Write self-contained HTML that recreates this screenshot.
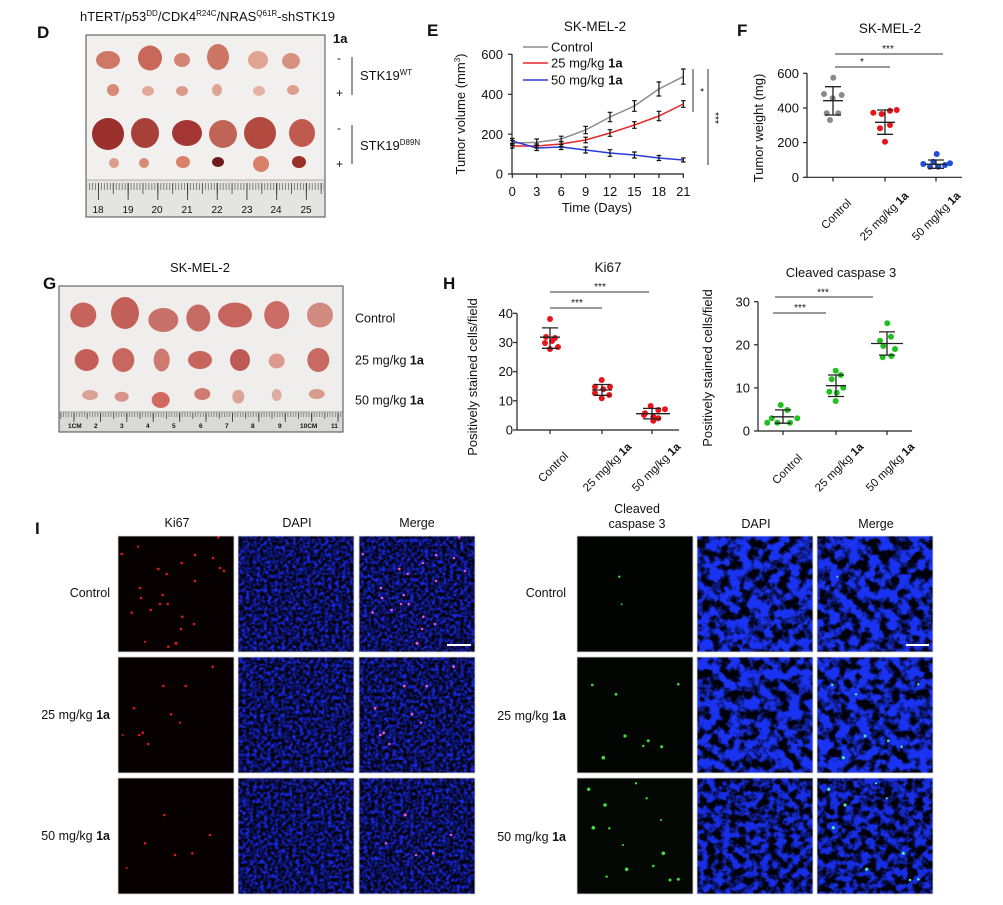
<!DOCTYPE html>
<html><head><meta charset="utf-8"><style>
html,body{margin:0;padding:0;background:#fff;}
svg{display:block;}
svg text{font-family:"Liberation Sans",Arial,sans-serif;fill:#111;}
</style></head><body>
<svg width="1003" height="905" viewBox="0 0 1003 905" xmlns="http://www.w3.org/2000/svg">
<defs>
<pattern id="mmD" patternUnits="userSpaceOnUse" x="98" y="0" width="2.97" height="905"><line x1="0.4" y1="0" x2="0.4" y2="905" stroke="#555" stroke-width="0.7"/></pattern>
<pattern id="hD" patternUnits="userSpaceOnUse" x="98" y="0" width="14.85" height="905"><line x1="0.4" y1="0" x2="0.4" y2="905" stroke="#444" stroke-width="0.8"/></pattern>
<pattern id="cD" patternUnits="userSpaceOnUse" x="98" y="0" width="29.7" height="905"><line x1="0.4" y1="0" x2="0.4" y2="905" stroke="#333" stroke-width="0.9"/></pattern>
<pattern id="mmG" patternUnits="userSpaceOnUse" x="100" y="0" width="2.64" height="905"><line x1="0.4" y1="0" x2="0.4" y2="905" stroke="#555" stroke-width="0.6"/></pattern>
<pattern id="hG" patternUnits="userSpaceOnUse" x="100" y="0" width="13.2" height="905"><line x1="0.4" y1="0" x2="0.4" y2="905" stroke="#444" stroke-width="0.7"/></pattern>
<pattern id="cG" patternUnits="userSpaceOnUse" x="100" y="0" width="26.4" height="905"><line x1="0.4" y1="0" x2="0.4" y2="905" stroke="#333" stroke-width="0.8"/></pattern>
<filter id="fL" x="0" y="0" width="1" height="1" color-interpolation-filters="sRGB">
 <feTurbulence type="fractalNoise" baseFrequency="0.28" numOctaves="2" seed="4"/>
 <feColorMatrix type="matrix" values="0 0 0 0 0.1  0 0 0 0 0.16  0 0 0 0 0.92  2.5 0 0 0 -0.9"/>
</filter>
<filter id="fR" x="0" y="0" width="1" height="1" color-interpolation-filters="sRGB">
 <feTurbulence type="fractalNoise" baseFrequency="0.1" numOctaves="3" seed="7"/>
 <feColorMatrix type="matrix" values="0 0 0 0 0.1  0 0 0 0 0.2  0 0 0 0 0.95  4.5 0 0 0 -1.65"/>
</filter>
<filter id="fR2" x="0" y="0" width="1" height="1" color-interpolation-filters="sRGB">
 <feTurbulence type="fractalNoise" baseFrequency="0.13" numOctaves="3" seed="11"/>
 <feColorMatrix type="matrix" values="0 0 0 0 0.09  0 0 0 0 0.18  0 0 0 0 0.9  4.2 0 0 0 -1.6"/>
</filter>
</defs>

<!-- ================= PANEL D ================= -->
<text x="37" y="38" font-size="17" font-weight="bold">D</text>
<text x="80" y="21" font-size="13">hTERT/p53<tspan dy="-5" font-size="8">DD</tspan><tspan dy="5">/CDK4</tspan><tspan dy="-5" font-size="8">R24C</tspan><tspan dy="5">/NRAS</tspan><tspan dy="-5" font-size="8">Q61R</tspan><tspan dy="5">-shSTK19</tspan></text>
<rect x="86" y="35" width="239" height="182" fill="#f2f0ee" stroke="#4a4a4a" stroke-width="1"/>
<rect x="86.5" y="180" width="238" height="36.5" fill="#e4e4e2"/>
<line x1="86" y1="180" x2="325" y2="180" stroke="#9a9a9a" stroke-width="0.8"/>
<rect x="87" y="183" width="237" height="7" fill="url(#mmD)"/>
<rect x="87" y="183" width="237" height="11" fill="url(#hD)"/>
<rect x="87" y="183" width="237" height="17" fill="url(#cD)"/>
<g font-size="10" text-anchor="middle">
<text x="98" y="213">18</text><text x="128" y="213">19</text><text x="157" y="213">20</text><text x="187" y="213">21</text><text x="217" y="213">22</text><text x="247" y="213">23</text><text x="276" y="213">24</text><text x="306" y="213">25</text>
</g>
<g>
<ellipse cx="108" cy="60" rx="12" ry="9" fill="#cf7868"/>
<ellipse cx="150" cy="58" rx="12" ry="12.5" fill="#c8675a"/>
<ellipse cx="182" cy="60" rx="8" ry="7" fill="#d48474"/>
<ellipse cx="218" cy="57" rx="11" ry="13" fill="#cd7565"/>
<ellipse cx="258" cy="60" rx="10" ry="9" fill="#dfa494"/>
<ellipse cx="291" cy="61" rx="9" ry="8" fill="#d8907e"/>
<ellipse cx="113" cy="90" rx="6" ry="6" fill="#d88a78"/>
<ellipse cx="148" cy="91" rx="6" ry="5" fill="#e3a898"/>
<ellipse cx="182" cy="91" rx="6" ry="5" fill="#dc9886"/>
<ellipse cx="217" cy="90" rx="5" ry="6" fill="#e0a292"/>
<ellipse cx="259" cy="91" rx="6" ry="5" fill="#e6b0a2"/>
<ellipse cx="293" cy="90" rx="6" ry="5" fill="#dd9c8c"/>
<ellipse cx="108" cy="134" rx="16" ry="16" fill="#9a2f2c"/>
<ellipse cx="145" cy="133" rx="14" ry="15" fill="#a8403a"/>
<ellipse cx="187" cy="133" rx="15" ry="13" fill="#a33632"/>
<ellipse cx="223" cy="134" rx="14" ry="14" fill="#c06458"/>
<ellipse cx="260" cy="133" rx="16" ry="16" fill="#b24a40"/>
<ellipse cx="302" cy="133" rx="13" ry="14" fill="#c05a4e"/>
<ellipse cx="114" cy="163" rx="5" ry="5" fill="#dd9c88"/>
<ellipse cx="144" cy="163" rx="5" ry="5" fill="#d88a76"/>
<ellipse cx="183" cy="162" rx="7" ry="6" fill="#d88068"/>
<ellipse cx="218" cy="162" rx="6" ry="5" fill="#6e1c1a"/>
<ellipse cx="261" cy="164" rx="8" ry="8" fill="#d8806a"/>
<ellipse cx="299" cy="162" rx="7" ry="6" fill="#9a3028"/>
</g>
<text x="333" y="43" font-size="13" font-weight="bold">1a</text>
<text x="337" y="62" font-size="12">-</text>
<text x="336" y="97" font-size="12">+</text>
<line x1="352" y1="57" x2="352" y2="95" stroke="#333" stroke-width="1"/>
<text x="360" y="80" font-size="13">STK19<tspan dy="-5" font-size="8">WT</tspan></text>
<text x="337" y="132" font-size="12">-</text>
<text x="336" y="168" font-size="12">+</text>
<line x1="352" y1="125" x2="352" y2="164" stroke="#333" stroke-width="1"/>
<text x="360" y="150" font-size="13">STK19<tspan dy="-5" font-size="8">D89N</tspan></text>

<!-- ================= PANEL E ================= -->
<text x="427" y="36" font-size="17" font-weight="bold">E</text>
<text x="595" y="31" font-size="13.5" text-anchor="middle">SK-MEL-2</text>
<g stroke="#222" stroke-width="1.2" fill="none">
<line x1="512" y1="54" x2="512" y2="174.5"/>
<line x1="512" y1="174" x2="684" y2="174"/>
<line x1="508" y1="54.3" x2="512" y2="54.3"/><line x1="508" y1="94.3" x2="512" y2="94.3"/><line x1="508" y1="134.2" x2="512" y2="134.2"/><line x1="508" y1="174" x2="512" y2="174"/>
<line x1="512.3" y1="174" x2="512.3" y2="178"/><line x1="536.7" y1="174" x2="536.7" y2="178"/><line x1="561.2" y1="174" x2="561.2" y2="178"/><line x1="585.6" y1="174" x2="585.6" y2="178"/><line x1="610" y1="174" x2="610" y2="178"/><line x1="634.4" y1="174" x2="634.4" y2="178"/><line x1="658.9" y1="174" x2="658.9" y2="178"/><line x1="683.3" y1="174" x2="683.3" y2="178"/>
</g>
<g font-size="13" text-anchor="end">
<text x="503" y="59">600</text><text x="503" y="99">400</text><text x="503" y="139">200</text><text x="503" y="178.5">0</text>
</g>
<g font-size="13" text-anchor="middle">
<text x="512.3" y="196">0</text><text x="536.7" y="196">3</text><text x="561.2" y="196">6</text><text x="585.6" y="196">9</text><text x="610" y="196">12</text><text x="634.4" y="196">15</text><text x="658.9" y="196">18</text><text x="683.3" y="196">21</text>
<text x="597" y="212">Time (Days)</text>
</g>
<text transform="translate(465,114) rotate(-90)" font-size="13" text-anchor="middle">Tumor volume (mm<tspan dy="-5" font-size="8">3</tspan><tspan dy="5">)</tspan></text>
<line x1="523" y1="47" x2="548" y2="47" stroke="#8c8c8c" stroke-width="1.5"/>
<line x1="523" y1="63" x2="548" y2="63" stroke="#e8262a" stroke-width="1.5"/>
<line x1="523" y1="80" x2="548" y2="80" stroke="#2a3bdc" stroke-width="1.5"/>
<text x="551" y="51.5" font-size="13">Control</text>
<text x="551" y="67.5" font-size="13">25 mg/kg <tspan font-weight="bold">1a</tspan></text>
<text x="551" y="84.5" font-size="13">50 mg/kg <tspan font-weight="bold">1a</tspan></text>
<polyline fill="none" stroke="#8c8c8c" stroke-width="1.5" points="512.3,143 536.7,142.4 561.2,139 585.6,130 610,117 634.4,106 658.9,89 683.3,76.6"/>
<polyline fill="none" stroke="#e8262a" stroke-width="1.5" points="512.3,146 536.7,146 561.2,144 585.6,140 610,133 634.4,125 658.9,116 683.3,104"/>
<polyline fill="none" stroke="#2a3bdc" stroke-width="1.5" points="512.3,141 536.7,148 561.2,147 585.6,150 610,153 634.4,155 658.9,158 683.3,160"/>
<g stroke="#111" stroke-width="1.2" fill="none">
<path d="M512.3,140.5V145.5M510,140.5h4.6M510,145.5h4.6"/>
<path d="M536.7,139V145.8M534.4,139h4.6M534.4,145.8h4.6"/>
<path d="M561.2,136.2V141.8M558.9,136.2h4.6M558.9,141.8h4.6"/>
<path d="M585.6,126.3V133.7M583.3,126.3h4.6M583.3,133.7h4.6"/>
<path d="M610,112.3V121.7M607.7,112.3h4.6M607.7,121.7h4.6"/>
<path d="M634.4,100.7V111.3M632.1,100.7h4.6M632.1,111.3h4.6"/>
<path d="M658.9,82V96M656.6,82h4.6M656.6,96h4.6"/>
<path d="M683.3,69V84.2M681,69h4.6M681,84.2h4.6"/>
<path d="M512.3,144V148M510,144h4.6M510,148h4.6"/>
<path d="M536.7,144V148M534.4,144h4.6M534.4,148h4.6"/>
<path d="M561.2,141.5V146.5M558.9,141.5h4.6M558.9,146.5h4.6"/>
<path d="M585.6,137.2V142.8M583.3,137.2h4.6M583.3,142.8h4.6"/>
<path d="M610,129.7V136.3M607.7,129.7h4.6M607.7,136.3h4.6"/>
<path d="M634.4,121.7V128.3M632.1,121.7h4.6M632.1,128.3h4.6"/>
<path d="M658.9,111.3V120.7M656.6,111.3h4.6M656.6,120.7h4.6"/>
<path d="M683.3,100.7V107.3M681,100.7h4.6M681,107.3h4.6"/>
<path d="M512.3,138.5V143.5M510,138.5h4.6M510,143.5h4.6"/>
<path d="M536.7,145.5V150.5M534.4,145.5h4.6M534.4,150.5h4.6"/>
<path d="M561.2,144.5V149.5M558.9,144.5h4.6M558.9,149.5h4.6"/>
<path d="M585.6,147V153M583.3,147h4.6M583.3,153h4.6"/>
<path d="M610,149.7V156.3M607.7,149.7h4.6M607.7,156.3h4.6"/>
<path d="M634.4,152V158M632.1,152h4.6M632.1,158h4.6"/>
<path d="M658.9,155.5V160.5M656.6,155.5h4.6M656.6,160.5h4.6"/>
<path d="M683.3,158V162M681,158h4.6M681,162h4.6"/>
</g>
<line x1="693" y1="69" x2="693" y2="112" stroke="#333" stroke-width="1"/>
<line x1="708" y1="69" x2="708" y2="165" stroke="#333" stroke-width="1"/>
<text transform="translate(697,90) rotate(90)" font-size="10" text-anchor="middle">*</text>
<text transform="translate(712,118) rotate(90)" font-size="10" text-anchor="middle">***</text>

<!-- ================= PANEL F ================= -->
<text x="737" y="36" font-size="17" font-weight="bold">F</text>
<text x="890" y="33" font-size="13.5" text-anchor="middle">SK-MEL-2</text>
<line x1="835" y1="54" x2="943" y2="54" stroke="#333" stroke-width="1"/>
<text x="888" y="52" font-size="10" text-anchor="middle">***</text>
<line x1="835" y1="67" x2="890" y2="67" stroke="#333" stroke-width="1"/>
<text x="862" y="65" font-size="10" text-anchor="middle">*</text>
<g stroke="#222" stroke-width="1.2" fill="none">
<line x1="807" y1="73.3" x2="807" y2="177.8"/>
<line x1="807" y1="177.3" x2="962" y2="177.3"/>
<line x1="803" y1="73.3" x2="807" y2="73.3"/><line x1="803" y1="108" x2="807" y2="108"/><line x1="803" y1="142.6" x2="807" y2="142.6"/><line x1="803" y1="177.3" x2="807" y2="177.3"/>
<line x1="833" y1="177.3" x2="833" y2="181.5"/><line x1="885" y1="177.3" x2="885" y2="181.5"/><line x1="936" y1="177.3" x2="936" y2="181.5"/>
</g>
<g font-size="13" text-anchor="end">
<text x="799" y="78">600</text><text x="799" y="112.5">400</text><text x="799" y="147">200</text><text x="799" y="182">0</text>
</g>
<text transform="translate(763,128) rotate(-90)" font-size="13" text-anchor="middle">Tumor weight (mg)</text>
<g fill="#8a8a8a">
<circle cx="833.3" cy="77.7" r="3"/><circle cx="824" cy="94" r="3"/><circle cx="841.7" cy="95" r="3"/><circle cx="832.7" cy="98.3" r="3"/><circle cx="826.7" cy="113.3" r="3"/><circle cx="838.3" cy="113.3" r="3"/><circle cx="830" cy="120" r="3"/>
</g>
<g fill="#e8141a">
<circle cx="873.3" cy="112.7" r="3"/><circle cx="881.7" cy="114" r="3"/><circle cx="890" cy="110.7" r="3"/><circle cx="896.7" cy="110" r="3"/><circle cx="880" cy="128.3" r="3"/><circle cx="890" cy="125" r="3"/><circle cx="885" cy="141.7" r="3"/>
</g>
<g fill="#1f4fd8">
<circle cx="936.7" cy="154" r="3"/><circle cx="923.3" cy="164" r="3"/><circle cx="930" cy="166.7" r="3"/><circle cx="938.3" cy="166.7" r="3"/><circle cx="945" cy="165" r="3"/><circle cx="950" cy="163.3" r="3"/><circle cx="933.3" cy="161.7" r="3"/>
</g>
<g stroke="#222" stroke-width="1.3" fill="none">
<path d="M833,86.7V115M825,86.7h16M825,115h16M823,100.7h20"/>
<path d="M885,110V134.3M877,110h16M877,134.3h16M875,122.3h20"/>
<path d="M936,160V168.3M928,160h16M928,168.3h16M925,164.3h22"/>
</g>
<g font-size="11.5" text-anchor="middle">
<text transform="translate(836,214) rotate(-45)" dy="4">Control</text>
<text transform="translate(884,216) rotate(-45)" dy="4">25 mg/kg <tspan font-weight="bold">1a</tspan></text>
<text transform="translate(936,216) rotate(-45)" dy="4">50 mg/kg <tspan font-weight="bold">1a</tspan></text>
</g>

<!-- ================= PANEL G ================= -->
<text x="43" y="289" font-size="17" font-weight="bold">G</text>
<text x="200" y="272" font-size="13" text-anchor="middle">SK-MEL-2</text>
<rect x="59" y="286" width="284" height="146" fill="#f0eeec" stroke="#4a4a4a" stroke-width="1"/>
<rect x="59.5" y="412" width="283" height="19.5" fill="#d9d9d7"/>
<line x1="59" y1="412" x2="343" y2="412" stroke="#777" stroke-width="0.8"/>
<rect x="60" y="413" width="282" height="4" fill="url(#mmG)"/>
<rect x="60" y="413" width="282" height="6" fill="url(#hG)"/>
<rect x="60" y="413" width="282" height="9" fill="url(#cG)"/>
<g font-size="6.5" font-weight="bold">
<text x="68" y="428">1CM</text><text x="94" y="428">2</text><text x="120" y="428">3</text><text x="146" y="428">4</text><text x="172" y="428">5</text><text x="199" y="428">6</text><text x="225" y="428">7</text><text x="251" y="428">8</text><text x="278" y="428">9</text><text x="300" y="428">10CM</text><text x="331" y="428">11</text>
</g>
<g>
<ellipse cx="83.3" cy="315" rx="13" ry="12.5" fill="#c8625c"/>
<ellipse cx="125" cy="313" rx="14" ry="16" fill="#c4605a"/>
<ellipse cx="163.3" cy="320" rx="15" ry="12" fill="#c9706a"/>
<ellipse cx="198.3" cy="318" rx="12" ry="13.5" fill="#c66a64"/>
<ellipse cx="235" cy="315" rx="17" ry="12.5" fill="#c6645e"/>
<ellipse cx="276.7" cy="315" rx="12.5" ry="14" fill="#cb6c66"/>
<ellipse cx="320" cy="315" rx="13" ry="12.5" fill="#d08a80"/>
<ellipse cx="86.7" cy="360" rx="12" ry="11" fill="#c45e58"/>
<ellipse cx="123.3" cy="360" rx="11" ry="12" fill="#c8665f"/>
<ellipse cx="161.7" cy="360" rx="8" ry="11.5" fill="#cf7a70"/>
<ellipse cx="200" cy="360" rx="12" ry="9" fill="#c8665e"/>
<ellipse cx="240" cy="360" rx="10" ry="11" fill="#c05a56"/>
<ellipse cx="276.7" cy="361" rx="8" ry="7.5" fill="#dc9a8e"/>
<ellipse cx="318.3" cy="360" rx="11" ry="12" fill="#c96a62"/>
<ellipse cx="90" cy="395" rx="8" ry="5" fill="#dca296"/>
<ellipse cx="121.7" cy="396.7" rx="7" ry="5" fill="#d8948a"/>
<ellipse cx="160.7" cy="400" rx="9" ry="8" fill="#cf6a5e"/>
<ellipse cx="202.3" cy="394" rx="8" ry="6" fill="#d07c70"/>
<ellipse cx="238.3" cy="396.7" rx="6" ry="7" fill="#dca498"/>
<ellipse cx="276.7" cy="395" rx="5" ry="6" fill="#e0aca2"/>
<ellipse cx="316.7" cy="394" rx="8" ry="5" fill="#d99a8e"/>
</g>
<text x="355" y="322.5" font-size="12.5">Control</text>
<text x="355" y="364.5" font-size="12.5">25 mg/kg <tspan font-weight="bold">1a</tspan></text>
<text x="355" y="404.5" font-size="12.5">50 mg/kg <tspan font-weight="bold">1a</tspan></text>

<!-- ================= PANEL H (Ki67) ================= -->
<text x="443" y="289" font-size="17" font-weight="bold">H</text>
<text x="608" y="272" font-size="13.5" text-anchor="middle">Ki67</text>
<line x1="550" y1="292" x2="649" y2="292" stroke="#333" stroke-width="1"/>
<text x="600" y="290" font-size="10" text-anchor="middle">***</text>
<line x1="550" y1="308" x2="602" y2="308" stroke="#333" stroke-width="1"/>
<text x="577" y="306" font-size="10" text-anchor="middle">***</text>
<g stroke="#222" stroke-width="1.2" fill="none">
<line x1="517" y1="313.3" x2="517" y2="430.5"/>
<line x1="517" y1="430" x2="679" y2="430"/>
<line x1="513" y1="313.3" x2="517" y2="313.3"/><line x1="513" y1="342.5" x2="517" y2="342.5"/><line x1="513" y1="371.7" x2="517" y2="371.7"/><line x1="513" y1="400.8" x2="517" y2="400.8"/><line x1="513" y1="430" x2="517" y2="430"/>
<line x1="550" y1="430" x2="550" y2="434"/><line x1="602" y1="430" x2="602" y2="434"/><line x1="652" y1="430" x2="652" y2="434"/>
</g>
<g font-size="13" text-anchor="end">
<text x="513" y="318">40</text><text x="513" y="347">30</text><text x="513" y="376">20</text><text x="513" y="405.5">10</text><text x="513" y="434.5">0</text>
</g>
<text transform="translate(477,377) rotate(-90)" font-size="13" text-anchor="middle">Positively stained cells/field</text>
<g fill="#e8141a">
<circle cx="550" cy="319" r="3"/><circle cx="546" cy="337" r="3"/><circle cx="555" cy="338" r="3"/><circle cx="545" cy="343" r="3"/><circle cx="552" cy="341" r="3"/><circle cx="558" cy="347" r="3"/><circle cx="550" cy="349" r="3"/>
<circle cx="601.7" cy="380" r="3"/><circle cx="595" cy="386.7" r="3"/><circle cx="610" cy="386.7" r="3"/><circle cx="603.3" cy="389.3" r="3"/><circle cx="595" cy="393.3" r="3"/><circle cx="609.3" cy="395" r="3"/><circle cx="601.7" cy="398.3" r="3"/>
<circle cx="650.7" cy="406" r="3"/><circle cx="645" cy="413.3" r="3"/><circle cx="658.3" cy="410" r="3"/><circle cx="665" cy="409.3" r="3"/><circle cx="653.3" cy="416.7" r="3"/><circle cx="658.3" cy="418.3" r="3"/><circle cx="644" cy="415" r="3"/><circle cx="653.3" cy="420.7" r="3"/>
</g>
<g stroke="#222" stroke-width="1.3" fill="none">
<path d="M550,327.9V348.3M542,327.9h16M542,348.3h16M540,337.2h20"/>
<path d="M602,384.5V395.3M594,384.5h16M594,395.3h16M592,390h20"/>
<path d="M652,408.4V418.9M643,408.4h18M643,418.9h18M636,413.7h34"/>
</g>
<g font-size="11.5" text-anchor="middle">
<text transform="translate(553,467) rotate(-45)" dy="4">Control</text>
<text transform="translate(607,467) rotate(-45)" dy="4">25 mg/kg <tspan font-weight="bold">1a</tspan></text>
<text transform="translate(656,467) rotate(-45)" dy="4">50 mg/kg <tspan font-weight="bold">1a</tspan></text>
</g>

<!-- ================= PANEL H (caspase) ================= -->
<text x="841" y="277" font-size="13" text-anchor="middle">Cleaved caspase 3</text>
<line x1="775" y1="297" x2="873" y2="297" stroke="#333" stroke-width="1"/>
<text x="823" y="295.5" font-size="10" text-anchor="middle">***</text>
<line x1="773" y1="313" x2="826" y2="313" stroke="#333" stroke-width="1"/>
<text x="800" y="311" font-size="10" text-anchor="middle">***</text>
<g stroke="#222" stroke-width="1.2" fill="none">
<line x1="758" y1="301.7" x2="758" y2="431.5"/>
<line x1="758" y1="431" x2="912" y2="431"/>
<line x1="754" y1="301.7" x2="758" y2="301.7"/><line x1="754" y1="344.8" x2="758" y2="344.8"/><line x1="754" y1="387.9" x2="758" y2="387.9"/><line x1="754" y1="431" x2="758" y2="431"/>
<line x1="783" y1="431" x2="783" y2="435"/><line x1="836" y1="431" x2="836" y2="435"/><line x1="887" y1="431" x2="887" y2="435"/>
</g>
<g font-size="13" text-anchor="end">
<text x="750" y="306.5">30</text><text x="750" y="349.5">20</text><text x="750" y="392.5">10</text><text x="750" y="435.5">0</text>
</g>
<text transform="translate(712,368) rotate(-90)" font-size="13" text-anchor="middle">Positively stained cells/field</text>
<g fill="#22bf22">
<circle cx="780.7" cy="405" r="3"/><circle cx="787.3" cy="410" r="3"/><circle cx="771.7" cy="418.3" r="3"/><circle cx="797.3" cy="418.3" r="3"/><circle cx="767.3" cy="422.7" r="3"/><circle cx="777.3" cy="422.7" r="3"/><circle cx="790" cy="422.7" r="3"/>
<circle cx="835.7" cy="370.7" r="3"/><circle cx="840.7" cy="375" r="3"/><circle cx="831.7" cy="379.3" r="3"/><circle cx="829.3" cy="391.7" r="3"/><circle cx="843.3" cy="387.7" r="3"/><circle cx="836.7" cy="392.7" r="3"/><circle cx="835.7" cy="401" r="3"/>
<circle cx="887.3" cy="323.3" r="3"/><circle cx="880" cy="340.7" r="3"/><circle cx="891" cy="336.7" r="3"/><circle cx="883.3" cy="346" r="3"/><circle cx="895" cy="349" r="3"/><circle cx="882.7" cy="357.3" r="3"/><circle cx="891.3" cy="356" r="3"/>
</g>
<g stroke="#222" stroke-width="1.3" fill="none">
<path d="M783,409.9V423.2M775,409.9h16M775,423.2h16M772,416.8h22"/>
<path d="M836,375V396.5M828,375h16M828,396.5h16M826,385.7h20"/>
<path d="M887,331.9V355.1M879,331.9h16M879,355.1h16M871,343.5h32"/>
</g>
<g font-size="11.5" text-anchor="middle">
<text transform="translate(787,469) rotate(-45)" dy="4">Control</text>
<text transform="translate(839,467) rotate(-45)" dy="4">25 mg/kg <tspan font-weight="bold">1a</tspan></text>
<text transform="translate(890,467) rotate(-45)" dy="4">50 mg/kg <tspan font-weight="bold">1a</tspan></text>
</g>

<!-- ================= PANEL I ================= -->
<text x="35" y="534" font-size="17" font-weight="bold">I</text>
<g font-size="12.5" text-anchor="middle">
<text x="177" y="527">Ki67</text><text x="297" y="527">DAPI</text><text x="417" y="527">Merge</text>
<text x="637" y="513">Cleaved</text><text x="637" y="528">caspase 3</text><text x="756" y="528">DAPI</text><text x="876" y="528">Merge</text>
</g>
<g font-size="12.5" text-anchor="end">
<text x="110" y="597">Control</text>
<text x="110" y="719">25 mg/kg <tspan font-weight="bold">1a</tspan></text>
<text x="110" y="840">50 mg/kg <tspan font-weight="bold">1a</tspan></text>
<text x="566" y="597">Control</text>
<text x="566" y="720">25 mg/kg <tspan font-weight="bold">1a</tspan></text>
<text x="566" y="841">50 mg/kg <tspan font-weight="bold">1a</tspan></text>
</g>
<g>
<rect x="118" y="536" width="116" height="116" fill="#060000"/>
<rect x="118" y="657" width="116" height="116" fill="#060000"/>
<rect x="118" y="778" width="116" height="116" fill="#060000"/>
<rect x="238" y="536" width="116" height="116" fill="#02030c"/>
<rect x="238" y="657" width="116" height="116" fill="#02030c"/>
<rect x="238" y="778" width="116" height="116" fill="#02030c"/>
<rect x="359" y="536" width="116" height="116" fill="#02030c"/>
<rect x="359" y="657" width="116" height="116" fill="#02030c"/>
<rect x="359" y="778" width="116" height="116" fill="#02030c"/>
<rect x="238" y="536" width="116" height="116" filter="url(#fL)"/>
<rect x="238" y="657" width="116" height="116" filter="url(#fL)"/>
<rect x="238" y="778" width="116" height="116" filter="url(#fL)"/>
<rect x="359" y="536" width="116" height="116" filter="url(#fL)"/>
<rect x="359" y="657" width="116" height="116" filter="url(#fL)"/>
<rect x="359" y="778" width="116" height="116" filter="url(#fL)"/>
</g>
<g fill="#e01818">
<circle cx="218.3" cy="537.3" r="1.3"/><circle cx="121.7" cy="554" r="1.3"/><circle cx="138" cy="546.7" r="1.1"/><circle cx="195" cy="555" r="1.3"/><circle cx="213" cy="558" r="1.3"/><circle cx="220" cy="568" r="1.3"/><circle cx="181.7" cy="563" r="1.3"/><circle cx="158.3" cy="569" r="1.4"/><circle cx="166.7" cy="574" r="1.3"/><circle cx="224" cy="571" r="1.3"/><circle cx="195" cy="581" r="1.3"/><circle cx="140" cy="588" r="1.3"/><circle cx="162.7" cy="595" r="1.3"/><circle cx="141" cy="598" r="1.3"/><circle cx="160" cy="604" r="1.3"/><circle cx="167.7" cy="604" r="1.3"/><circle cx="150.7" cy="610" r="1.3"/><circle cx="131.7" cy="612.7" r="1.3"/><circle cx="182.3" cy="616.7" r="1.3"/><circle cx="194" cy="624" r="1.3"/><circle cx="181" cy="629" r="1.3"/><circle cx="176" cy="643.3" r="1.6"/><circle cx="168.3" cy="646.7" r="1.3"/><circle cx="145" cy="641.7" r="1.1"/>
<circle cx="212.7" cy="666.7" r="1.3"/><circle cx="163.3" cy="686" r="1.3"/><circle cx="185.7" cy="686" r="1.3"/><circle cx="134" cy="708.3" r="1.3"/><circle cx="171" cy="714.3" r="1.3"/><circle cx="180" cy="722.7" r="1.1"/><circle cx="142.7" cy="732.7" r="1.3"/><circle cx="139.3" cy="735" r="1.3"/><circle cx="148.3" cy="744" r="1.3"/><circle cx="122.7" cy="735" r="1"/>
<circle cx="164.3" cy="815" r="1.3"/><circle cx="210" cy="835" r="1.3"/><circle cx="145" cy="843.3" r="1.3"/><circle cx="175" cy="855" r="1.3"/><circle cx="192.3" cy="853.3" r="1.3"/><circle cx="126.7" cy="868" r="1"/>
</g>
<g fill="#ff5ae8" opacity="0.9">
<circle cx="459.3" cy="537.3" r="1.3"/><circle cx="362.7" cy="554" r="1.3"/><circle cx="436" cy="555" r="1.3"/><circle cx="454" cy="558" r="1.3"/><circle cx="422.7" cy="563" r="1.3"/><circle cx="399.3" cy="569" r="1.4"/><circle cx="407.7" cy="574" r="1.3"/><circle cx="465" cy="571" r="1.3"/><circle cx="436" cy="581" r="1.3"/><circle cx="381" cy="588" r="1.3"/><circle cx="403.7" cy="595" r="1.3"/><circle cx="382" cy="598" r="1.3"/><circle cx="401" cy="604" r="1.3"/><circle cx="408.7" cy="604" r="1.3"/><circle cx="391.7" cy="610" r="1.3"/><circle cx="372.7" cy="612.7" r="1.3"/><circle cx="423.3" cy="616.7" r="1.3"/><circle cx="435" cy="624" r="1.3"/><circle cx="422" cy="629" r="1.3"/><circle cx="417" cy="643.3" r="1.6"/>
<circle cx="453.7" cy="666.7" r="1.4"/><circle cx="404.3" cy="686" r="1.5"/><circle cx="426.7" cy="686" r="1.4"/><circle cx="375" cy="708.3" r="1.5"/><circle cx="412" cy="714.3" r="1.4"/><circle cx="421" cy="722.7" r="1.2"/><circle cx="383.7" cy="732.7" r="1.4"/><circle cx="380.3" cy="735" r="1.4"/><circle cx="389.3" cy="744" r="1.3"/>
<circle cx="405.3" cy="815" r="1.5"/><circle cx="451" cy="835" r="1.3"/><circle cx="386" cy="843.3" r="1.3"/><circle cx="416" cy="855" r="1.3"/><circle cx="433.3" cy="853.3" r="1.3"/>
</g>
<line x1="447" y1="645" x2="471" y2="645" stroke="#fff" stroke-width="2"/>
<g fill="none" stroke="#d8d8d8" stroke-width="0.8">
<rect x="118" y="536" width="116" height="116"/><rect x="238" y="536" width="116" height="116"/><rect x="359" y="536" width="116" height="116"/>
<rect x="118" y="657" width="116" height="116"/><rect x="238" y="657" width="116" height="116"/><rect x="359" y="657" width="116" height="116"/>
<rect x="118" y="778" width="116" height="116"/><rect x="238" y="778" width="116" height="116"/><rect x="359" y="778" width="116" height="116"/>
</g>
<g>
<rect x="577" y="536" width="116" height="116" fill="#020402"/>
<rect x="577" y="657" width="116" height="116" fill="#020502"/>
<rect x="577" y="778" width="116" height="116" fill="#030803"/>
<rect x="697" y="536" width="116" height="116" fill="#01020c"/>
<rect x="697" y="657" width="116" height="116" fill="#01020c"/>
<rect x="697" y="778" width="116" height="116" fill="#01020c"/>
<rect x="817" y="536" width="116" height="116" fill="#01020c"/>
<rect x="817" y="657" width="116" height="116" fill="#01020c"/>
<rect x="817" y="778" width="116" height="116" fill="#01020c"/>
<rect x="697" y="536" width="116" height="116" filter="url(#fR)"/>
<rect x="697" y="657" width="116" height="116" filter="url(#fR)"/>
<rect x="697" y="778" width="116" height="116" filter="url(#fR2)"/>
<rect x="817" y="536" width="116" height="116" filter="url(#fR)"/>
<rect x="817" y="657" width="116" height="116" filter="url(#fR)"/>
<rect x="817" y="778" width="116" height="116" filter="url(#fR2)"/>
</g>
<g fill="#3ee03e">
<circle cx="619.3" cy="576.7" r="1.2"/><circle cx="621.7" cy="604.3" r="0.9"/>
<circle cx="592.3" cy="685" r="1.3"/><circle cx="678.3" cy="684.3" r="1.3"/><circle cx="616" cy="694.3" r="1.4"/><circle cx="625" cy="736" r="1.6"/><circle cx="648.3" cy="740.7" r="1.5"/><circle cx="643.3" cy="746" r="1.2"/><circle cx="661.7" cy="746.7" r="1.5"/><circle cx="603.3" cy="757.7" r="1.8"/>
<circle cx="588.7" cy="789.3" r="1.7"/><circle cx="636" cy="783.3" r="1.2"/><circle cx="605" cy="805" r="1.8"/><circle cx="646.7" cy="798.3" r="1.2"/><circle cx="593.3" cy="827.7" r="1.8"/><circle cx="609.3" cy="828.3" r="1.2"/><circle cx="663.3" cy="853.3" r="1.8"/><circle cx="626.7" cy="869.3" r="1.8"/><circle cx="653.3" cy="866" r="1.3"/><circle cx="670" cy="880" r="1.5"/><circle cx="678.3" cy="879.3" r="1.5"/><circle cx="606.7" cy="876.7" r="1.2"/><circle cx="623" cy="845" r="1"/><circle cx="661" cy="820" r="1"/>
</g>
<g fill="#4ef0a0">
<circle cx="837.3" cy="576.7" r="1"/>
<circle cx="832.3" cy="685" r="1.2"/><circle cx="918.3" cy="684.3" r="1.2"/><circle cx="856" cy="694.3" r="1.2"/><circle cx="865" cy="736" r="1.4"/><circle cx="888.3" cy="740.7" r="1.3"/><circle cx="901.7" cy="746.7" r="1.2"/><circle cx="843.3" cy="757.7" r="1.6"/>
<circle cx="828.7" cy="789.3" r="1.6"/><circle cx="876" cy="783.3" r="1.1"/><circle cx="845" cy="805" r="1.6"/><circle cx="886.7" cy="798.3" r="1.1"/><circle cx="833.3" cy="827.7" r="1.6"/><circle cx="903.3" cy="853.3" r="1.6"/><circle cx="866.7" cy="869.3" r="1.6"/><circle cx="910" cy="880" r="1.3"/><circle cx="918.3" cy="879.3" r="1.3"/>
</g>
<line x1="906" y1="645" x2="929" y2="645" stroke="#fff" stroke-width="2"/>
<g fill="none" stroke="#d8d8d8" stroke-width="0.8">
<rect x="577" y="536" width="116" height="116"/><rect x="697" y="536" width="116" height="116"/><rect x="817" y="536" width="116" height="116"/>
<rect x="577" y="657" width="116" height="116"/><rect x="697" y="657" width="116" height="116"/><rect x="817" y="657" width="116" height="116"/>
<rect x="577" y="778" width="116" height="116"/><rect x="697" y="778" width="116" height="116"/><rect x="817" y="778" width="116" height="116"/>
</g>
</svg>
</body></html>
